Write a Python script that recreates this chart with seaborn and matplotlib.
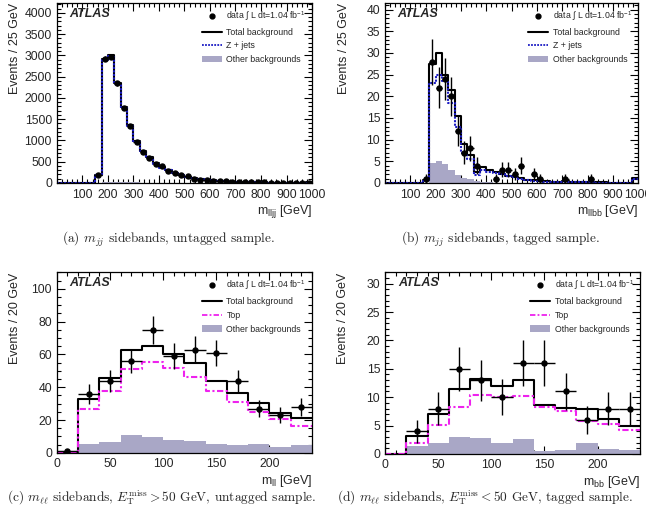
import numpy as np
import pandas as pd
import seaborn as sns
import matplotlib.pyplot as plt
from matplotlib.lines import Line2D
from matplotlib.patches import Patch
from matplotlib.ticker import MultipleLocator

# ---- panel (a): m_lljj, untagged, 25 GeV bins from 0 to 1000
edges_a = list(range(0, 1001, 25))
data_a = [0, 0, 0, 0, 0, 0, 190, 2920, 2960, 2340, 1760, 1350, 960, 740, 580, 440,
          390, 290, 235, 190, 170, 105, 80, 70, 50, 45, 35, 28, 25, 20,
          18, 14, 12, 11, 9, 8, 7, 6, 6, 10]
total_a = [0, 0, 0, 0, 0, 0, 190, 2910, 3020, 2350, 1780, 1360, 980, 760, 600, 460,
           370, 300, 240, 190, 150, 120, 95, 75, 60, 48, 39, 32, 26, 21,
           17, 14, 12, 10, 8, 7, 6, 5, 5, 12]
zjets_a = [0, 0, 0, 0, 0, 0, 185, 2880, 2990, 2320, 1760, 1340, 965, 750, 590, 452,
           364, 295, 236, 187, 147, 118, 93, 73, 59, 47, 38, 31, 25, 20,
           16, 13, 11, 9, 7, 6, 5, 4, 4, 11]
other_a = [0, 0, 0, 0, 0, 0, 5, 30, 30, 30, 20, 20, 15, 10, 10, 8,
           6, 5, 4, 3, 3, 2, 2, 2, 1, 1, 1, 1, 1, 1,
           1, 1, 1, 1, 0, 0, 0, 0, 0, 1]

# ---- panel (b): m_llbb, tagged
edges_b = list(range(0, 1001, 25))
data_b = [0, 0, 0, 0, 0, 0, 1, 28, 22, 24, 20, 12, 7, 8, 4, 0,
          0, 1, 3, 3, 2, 4, 0, 2, 1, 0, 0, 0, 1, 0,
          0, 0, 1, 0, 0, 0, 0, 0, 0, 0]
total_b = [0, 0, 0, 0, 0, 0, 0.6, 27.5, 30, 25, 21.5, 15.5, 9, 6.5, 2.5, 3.6,
           2.9, 2.5, 2.1, 1.7, 1.4, 1.1, 0.8, 0.6, 0.5, 0.35, 0.25, 0.3, 0.35, 0.3,
           0.25, 0.2, 0.2, 0.15, 0.15, 0.1, 0.1, 0.1, 0.1, 1.2]
zjets_b = [0, 0, 0, 0, 0, 0, 0.5, 23, 25, 23.5, 18.5, 13, 7, 5.5, 1.8, 3,
           2.6, 2.3, 2, 1.6, 1.3, 1, 0.7, 0.5, 0.4, 0.3, 0.2, 0.25, 0.3, 0.25,
           0.2, 0.15, 0.15, 0.1, 0.1, 0.1, 0.1, 0.1, 0.1, 1.0]
other_b = [0, 0, 0, 0, 0, 0, 0.1, 4.5, 5, 4.3, 3, 1.8, 1.2, 0.9, 0.4, 0.3,
           0.2, 0.1, 0.1, 0, 0, 0, 0, 0, 0, 0, 0, 0, 0, 0,
           0, 0, 0, 0, 0, 0, 0, 0, 0, 0]

# ---- panel (c): m_ll, MET > 50, untagged, 20 GeV bins
edges_c = list(range(0, 241, 20))
data_c = [1, 36, 44, 56, 75, 59, 63, 61, 44, 27, 23, 28]
total_c = [0.5, 33, 45.5, 62.5, 65, 60, 54.5, 44, 36.5, 30.5, 24, 21.5]
top_c = [0, 26.5, 38, 51, 55.5, 52, 46.5, 38, 31, 25, 20.5, 16.5]
other_c = [0.5, 5.5, 6.5, 11, 9.5, 8, 7.5, 5.5, 5, 5.5, 3.5, 4.5]

# ---- panel (d): m_bb, MET < 50, tagged
edges_d = list(range(0, 241, 20))
data_d = [0, 4, 8, 15, 13, 10, 16, 16, 11, 6, 8, 8]
total_d = [0, 3.2, 7.1, 11.4, 13.2, 12, 13, 8.7, 8.1, 7.9, 6.1, 4.9]
top_d = [0, 2, 5.1, 8.3, 10.4, 10.1, 10.2, 8.2, 7.5, 5.8, 5.3, 4.2]
other_d = [0, 1.3, 2, 3, 2.8, 1.9, 2.6, 0.5, 0.6, 2, 0.8, 0.6]

sns.set_theme(style="ticks")
plt.rcParams['font.family'] = ['Liberation Sans', 'DejaVu Sans']
plt.rcParams['mathtext.fontset'] = 'custom'
plt.rcParams['mathtext.rm'] = 'Liberation Sans'
plt.rcParams['mathtext.it'] = 'Liberation Sans:italic'

OTHER_COL = '#a9a7c6'
ZJ_COL = '#1c1cc4'
TOP_COL = '#ee22ee'

fig = plt.figure(figsize=(6.46, 5.14), dpi=100)


def draw_panel(rect, edges, data, total, second, other, second_label, second_style,
               xmax, ymax, xminor, ymajor, yminor, xlabel, ylabel, xticks):
    ax = fig.add_axes(rect)
    e = np.array(edges, dtype=float)
    centers = (e[:-1] + e[1:]) / 2
    width = e[1] - e[0]
    df = pd.DataFrame({"x": centers, "other": other, "total": total, "second": second})
    sns.histplot(data=df, x="x", weights="other", bins=edges, element="step", fill=True,
                 color=OTHER_COL, alpha=1, linewidth=0, ax=ax)
    sns.histplot(data=df, x="x", weights="total", bins=edges, element="step", fill=False,
                 color="black", linewidth=1.5, ax=ax)
    sns.histplot(data=df, x="x", weights="second", bins=edges, element="step", fill=False,
                 color=second_style[0], linewidth=1.5, linestyle=second_style[1], ax=ax)
    d = np.array(data, dtype=float)
    m = d > 0
    ax.errorbar(centers[m], d[m], yerr=np.sqrt(d[m]), xerr=width / 2, fmt='o',
                color='black', ms=3.6, elinewidth=1.0, capsize=0, zorder=5)

    ax.set_xlim(0, xmax)
    ax.set_ylim(0, ymax)
    ax.set_xticks(xticks)
    ax.xaxis.set_minor_locator(MultipleLocator(xminor))
    ax.yaxis.set_major_locator(MultipleLocator(ymajor))
    ax.yaxis.set_minor_locator(MultipleLocator(yminor))
    ax.tick_params(which='both', direction='in', top=True, right=True, labelsize=8.8,
                   width=0.8, color='black')
    ax.tick_params(which='major', length=6)
    ax.tick_params(which='minor', length=3)
    ax.tick_params(axis='x', pad=4)
    for s in ax.spines.values():
        s.set_linewidth(0.9)
        s.set_color('black')
    ax.set_ylabel(ylabel, fontsize=9, loc='top')
    ax.yaxis.set_label_coords(-0.14, 1.0)
    ax.set_xlabel(xlabel, fontsize=9, loc='right')
    ax.xaxis.set_label_coords(1.0, -0.11)

    ax.text(0.05, 0.975, "ATLAS", transform=ax.transAxes, fontsize=9,
            fontweight='bold', fontstyle='italic', va='top', ha='left')

    handles = [
        Line2D([], [], marker='o', ls='none', color='black', ms=3.5),
        Line2D([], [], color='black', lw=1.5),
        Line2D([], [], color=second_style[0], lw=1.3, ls=second_style[1]),
        Patch(facecolor=OTHER_COL, edgecolor='none'),
    ]
    labels = [r"data $\int$ L dt=1.04 fb$^{-1}$", "Total background",
              second_label, "Other backgrounds"]
    ax.legend(handles, labels, loc='upper right', bbox_to_anchor=(1.0, 1.0),
              frameon=False, fontsize=6.3, handlelength=2.3, handletextpad=0.5,
              labelspacing=0.55, borderaxespad=0.3)
    return ax


rect_a = [0.088, 0.644, 0.395, 0.350]
rect_b = [0.596, 0.644, 0.392, 0.350]
rect_c = [0.088, 0.119, 0.395, 0.351]
rect_d = [0.596, 0.117, 0.395, 0.353]

zstyle = (ZJ_COL, (0, (1, 0.7)))
tstyle = (TOP_COL, (0, (3, 1.2, 1, 1.2)))

draw_panel(rect_a, edges_a, data_a, total_a, zjets_a, other_a, "Z + jets", zstyle,
           1000, 4230, 20, 500, 100, r"m$_{\mathregular{lljj}}$ [GeV]",
           "Events / 25 GeV", np.arange(100, 1001, 100))
draw_panel(rect_b, edges_b, data_b, total_b, zjets_b, other_b, "Z + jets", zstyle,
           1000, 41.5, 20, 5, 1, r"m$_{\mathregular{llbb}}$ [GeV]",
           "Events / 25 GeV", np.arange(100, 1001, 100))
draw_panel(rect_c, edges_c, data_c, total_c, top_c, other_c, "Top", tstyle,
           240, 110, 10, 20, 5, r"m$_{\mathregular{ll}}$ [GeV]",
           "Events / 20 GeV", np.arange(0, 201, 50))
draw_panel(rect_d, edges_d, data_d, total_d, top_d, other_d, "Top", tstyle,
           240, 32, 10, 5, 1, r"m$_{\mathregular{bb}}$ [GeV]",
           "Events / 20 GeV", np.arange(0, 201, 50))

cap_kw = dict(fontsize=9.6, family='cmr10', ha='center', va='center')
plt.rcParams['mathtext.fontset'] = 'cm'
fig.text(168 / 646, 1 - 239 / 514, r"(a) $m_{jj}$ sidebands, untagged sample.", **cap_kw)
fig.text(500 / 646, 1 - 239 / 514, r"(b) $m_{jj}$ sidebands, tagged sample.", **cap_kw)
fig.text(162 / 646, 1 - 498 / 514,
         r"(c) $m_{\ell\ell}$ sidebands, $E_{\mathrm{T}}^{\mathrm{miss}} > 50$ GeV, untagged sample.", **cap_kw)
fig.text(485 / 646, 1 - 498 / 514,
         r"(d) $m_{\ell\ell}$ sidebands, $E_{\mathrm{T}}^{\mathrm{miss}} < 50$ GeV, tagged sample.", **cap_kw)

fig.savefig("out.png", dpi=100)
